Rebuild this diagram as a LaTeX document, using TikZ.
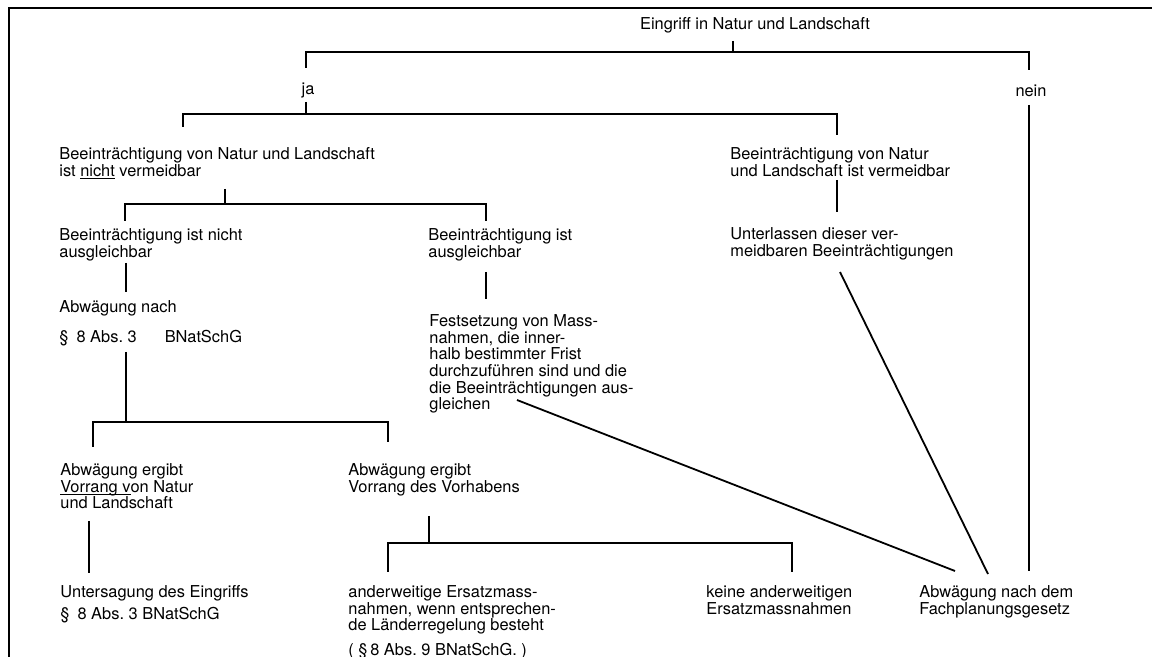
\documentclass[tikz,border=0pt]{standalone}
\usepackage{fontspec}
\setmainfont{TeX Gyre Heros}
\newcommand\diafont{\fontsize{8.2}{8.35}\selectfont}
\newsavebox\ulbox
\newcommand\ulined[1]{\sbox\ulbox{#1}\rlap{\rule[-1.6pt]{\wd\ulbox}{0.5pt}}\usebox\ulbox}

\begin{document}
\begin{tikzpicture}[
  x=0.5pt, y=-0.5pt,
  txt/.style={anchor=north west, inner sep=0pt, align=left, font=\diafont},
  ctr/.style={anchor=north, inner sep=0pt, font=\diafont},
  ln/.style={line width=0.9pt}
]
  \useasboundingbox (0,0) rectangle (1152,657);
  \draw[ln] (9,657) -- (9,8) -- (1152,8);

  % texts
  \node[ctr] (eingriff) at (755,17) {Eingriff in Natur und Landschaft};
  \node[ctr] (ja) at (308,83) {ja};
  \node[ctr] (nein) at (1031,85) {nein};
  \node[txt] (vermN) at (59,147) {Beeinträchtigung von Natur und Landschaft\\ist \ulined{nicht} vermeidbar};
  \node[txt] (vermJ) at (730,147) {Beeinträchtigung von Natur\\und Landschaft ist vermeidbar};
  \node[txt] (ausglN) at (59,228) {Beeinträchtigung ist nicht\\ausgleichbar};
  \node[txt] (ausglJ) at (428,228) {Beeinträchtigung ist\\ausgleichbar};
  \node[txt] (unterl) at (730,227) {Unterlassen dieser ver-\\meidbaren Beeinträchtigungen};
  \node[txt] (abwNach) at (59,300) {Abwägung nach\\[6.6pt]§\hspace{4pt}8 Abs.~3\hspace{14pt}BNatSchG};
  \node[txt] (festsetz) at (429,314) {Festsetzung von Mass-\\nahmen, die inner-\\halb bestimmter Frist\\durchzuführen sind und die\\die Beeinträchtigungen aus-\\gleichen};
  \node[txt] (vorrN) at (60,463) {Abwägung ergibt\\\ulined{Vorrang v}on Natur\\und Landschaft};
  \node[txt] (vorrV) at (348,463) {Abwägung ergibt\\Vorrang des Vorhabens};
  \node[txt] (untersag) at (60,585) {Untersagung des Eingriffs\\[2.6pt]§\hspace{4pt}8 Abs.~3 BNatSchG};
  \node[txt] (ersatz) at (348,585) {anderweitige Ersatzmass-\\nahmen, wenn entsprechen-\\de Länderregelung besteht\\[3.8pt]( §\,8 Abs.~9 BNatSchG. )};
  \node[txt] (keine) at (706,585) {keine anderweitigen\\Ersatzmassnahmen};
  \node[txt] (fachpl) at (919,585) {Abwägung nach dem\\Fachplanungsgesetz};

  % connector ends
  \coordinate (eingriffOut) at (733,41);
  \coordinate (eingriffFork) at (733,52);
  \coordinate (jaIn) at (306,68);
  \coordinate (neinIn) at (1029,70);
  \coordinate (jaOut) at (306,102);
  \coordinate (jaFork) at (306,114);
  \coordinate (vermNIn) at (183,127);
  \coordinate (vermJIn) at (837,135);
  \coordinate (vermNOut) at (225,189);
  \coordinate (vermNFork) at (225,204);
  \coordinate (ausglNIn) at (125,221);
  \coordinate (ausglJIn) at (486,221);
  \coordinate (vermJOut) at (837,180);
  \coordinate (unterlIn) at (837,212);
  \coordinate (ausglNOut) at (126,263);
  \coordinate (abwNachIn) at (126,292);
  \coordinate (ausglJOut) at (486,272);
  \coordinate (festsetzIn) at (486,299);
  \coordinate (abwNachOut) at (126,352);
  \coordinate (abwNachFork) at (126,422);
  \coordinate (vorrNIn) at (93,447);
  \coordinate (vorrVIn) at (388,442);
  \coordinate (vorrNOut) at (89,521);
  \coordinate (untersagIn) at (89,573);
  \coordinate (vorrVOut) at (429,516);
  \coordinate (vorrVFork) at (429,543);
  \coordinate (ersatzIn) at (388,572);
  \coordinate (keineIn) at (792,572);
  \coordinate (festsetzOut) at (517,400);
  \coordinate (unterlOut) at (840,272);
  \coordinate (neinOut) at (1029,105);
  \coordinate (fachplInA) at (955,571);
  \coordinate (fachplInB) at (988,574);
  \coordinate (fachplInC) at (1029,571);

  % tree
  \draw[ln] (eingriffOut) -- (eingriffFork) -| (jaIn);
  \draw[ln] (eingriffFork) -| (neinIn);
  \draw[ln] (jaOut) -- (jaFork) -| (vermNIn);
  \draw[ln] (jaFork) -| (vermJIn);
  \draw[ln] (vermNOut) -- (vermNFork) -| (ausglNIn);
  \draw[ln] (vermNFork) -| (ausglJIn);
  \draw[ln] (vermJOut) -- (unterlIn);
  \draw[ln] (ausglNOut) -- (abwNachIn);
  \draw[ln] (ausglJOut) -- (festsetzIn);
  \draw[ln] (abwNachOut) -- (abwNachFork) -| (vorrNIn);
  \draw[ln] (abwNachFork) -| (vorrVIn);
  \draw[ln] (vorrNOut) -- (untersagIn);
  \draw[ln] (vorrVOut) -- (vorrVFork) -| (ersatzIn);
  \draw[ln] (vorrVFork) -| (keineIn);
  \draw[ln] (festsetzOut) -- (fachplInA);
  \draw[ln] (unterlOut) -- (fachplInB);
  \draw[ln] (neinOut) -- (fachplInC);
\end{tikzpicture}
\end{document}
